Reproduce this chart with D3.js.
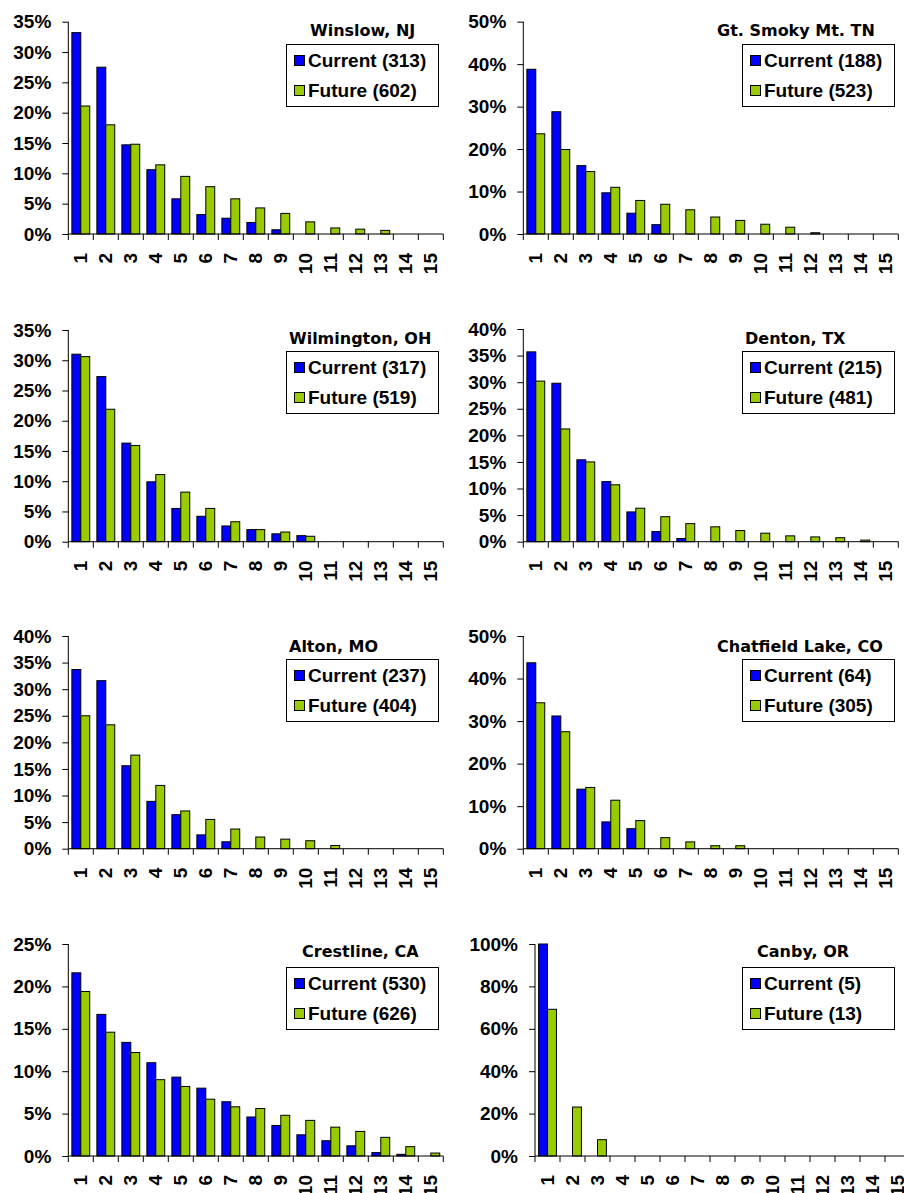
<!DOCTYPE html>
<html><head><meta charset="utf-8">
<script src="https://cdn.jsdelivr.net/npm/d3@7"></script>
<style>body{margin:0;background:#fff;overflow:hidden} svg{display:block}</style>
</head><body><svg id="c" width="904" height="1193"></svg>
<script>
// ---------- DATA ----------
const categories = ["1","2","3","4","5","6","7","8","9","10","11","12","13","14","15"];
const sites = ["Winslow, NJ","Gt. Smoky Mt. TN","Wilmington, OH","Denton, TX","Alton, MO","Chatfield Lake, CO","Crestline, CA","Canby, OR"];
const currentCounts = [313,188,317,215,237,64,530,5];
const futureCounts  = [602,523,519,481,404,305,626,13];
const yMaxes = [35,50,35,40,40,50,25,100];
const ySteps = [5,10,5,5,5,10,5,20];

const winslowCurrent    = [33.2,27.5,14.7,10.6,5.8,3.2,2.6,1.9,0.7,0,0,0,0,0,0];
const winslowFuture     = [21.1,18.0,14.8,11.4,9.5,7.8,5.8,4.3,3.4,2.0,1.0,0.8,0.6,0,0];
const smokyCurrent      = [38.8,28.8,16.1,9.7,4.9,2.2,0,0,0,0,0,0,0,0,0];
const smokyFuture       = [23.6,19.9,14.7,11.0,7.9,7.0,5.7,4.0,3.2,2.3,1.6,0.3,0,0,0];
const wilmingtonCurrent = [31.0,27.3,16.3,9.9,5.5,4.2,2.6,2.0,1.3,1.0,0,0,0,0,0];
const wilmingtonFuture  = [30.6,21.9,15.9,11.1,8.2,5.5,3.3,2.0,1.6,0.9,0,0,0,0,0];
const dentonCurrent     = [35.7,29.8,15.4,11.3,5.6,1.9,0.6,0,0,0,0,0,0,0,0];
const dentonFuture      = [30.2,21.2,15.0,10.7,6.3,4.7,3.4,2.8,2.1,1.6,1.1,0.9,0.75,0.3,0];
const altonCurrent      = [33.7,31.6,15.6,8.9,6.4,2.6,1.3,0,0,0,0,0,0,0,0];
const altonFuture       = [25.0,23.3,17.6,11.9,7.1,5.5,3.7,2.2,1.8,1.5,0.6,0,0,0,0];
const chatfieldCurrent  = [43.7,31.2,14.0,6.3,4.7,0,0,0,0,0,0,0,0,0,0];
const chatfieldFuture   = [34.3,27.5,14.4,11.4,6.6,2.6,1.6,0.7,0.7,0,0,0,0,0,0];
const crestlineCurrent  = [21.6,16.7,13.4,11.0,9.3,8.0,6.4,4.6,3.6,2.5,1.8,1.2,0.4,0.2,0];
const crestlineFuture   = [19.4,14.6,12.2,9.0,8.2,6.7,5.8,5.6,4.8,4.2,3.4,2.9,2.2,1.1,0.35];
const canbyCurrent      = [100,0,0,0,0,0,0,0,0,0,0,0,0,0,0];
const canbyFuture       = [69.2,23.1,7.7,0,0,0,0,0,0,0,0,0,0,0,0];

const currentSeries = [winslowCurrent,smokyCurrent,wilmingtonCurrent,dentonCurrent,altonCurrent,chatfieldCurrent,crestlineCurrent,canbyCurrent];
const futureSeries  = [winslowFuture,smokyFuture,wilmingtonFuture,dentonFuture,altonFuture,chatfieldFuture,crestlineFuture,canbyFuture];

// ---------- LAYOUT ----------
const layout = [
  {ax:68.3,  y0:234,   yTop:21.7, tx:310, ty:36,  lx:286, ly:44},
  {ax:523.3, y0:234,   yTop:21.7, tx:717, ty:36,  lx:742, ly:44},
  {ax:68.3,  y0:541.7, yTop:330,  tx:289, ty:344, lx:286, ly:351},
  {ax:523.3, y0:541.7, yTop:329,  tx:745, ty:344, lx:742, ly:351},
  {ax:68.3,  y0:848.7, yTop:636,  tx:289, ty:652, lx:286, ly:659},
  {ax:523.3, y0:848.7, yTop:636,  tx:717, ty:652, lx:742, ly:659},
  {ax:68.3,  y0:1156,  yTop:944,  tx:302, ty:957, lx:286, ly:967},
  {ax:535,   y0:1156,  yTop:944,  tx:757, ty:957, lx:742, ly:967}
];
const plotW = 375, legW = 152, legH = 62;
const blue = "#0000FF", green = "#99CC00";
const tickFont = "'Liberation Sans', Arial, sans-serif";
const titleFont = "'DejaVu Sans', Verdana, sans-serif";

const svg = d3.select("#c");

sites.forEach((site, i) => {
  const L = layout[i];
  const g = svg.append("g");
  const x = d3.scaleBand().domain(categories).range([L.ax, L.ax + plotW]).paddingInner(0).paddingOuter(0);
  const inner = d3.scaleBand().domain(["c","f"]).range([0, x.bandwidth()]).paddingOuter(0.4).paddingInner(0);
  const y = d3.scaleLinear().domain([0, yMaxes[i]]).range([L.y0, L.yTop]);
  const ticks = d3.range(0, yMaxes[i] + 0.001, ySteps[i]);

  // y axis
  const yAxis = d3.axisLeft(y).tickValues(ticks).tickSize(6).tickPadding(11)
    .tickFormat(d => d + "%");
  const ya = g.append("g").attr("transform", `translate(${L.ax},0)`).call(yAxis);
  ya.select(".domain").attr("stroke", "#000").attr("d", `M0,${L.y0}V${L.yTop}`);
  ya.selectAll(".tick line").attr("stroke", "#000");
  ya.selectAll("text").attr("font-family", tickFont).attr("font-weight", "bold")
    .attr("font-size", 19).attr("fill", "#000");

  // bars
  const cur = currentSeries[i], fut = futureSeries[i];
  const bars = g.append("g");
  const rows = categories.map((c, k) => ({c, cur: cur[k], fut: fut[k]}));
  [["c","cur",blue],["f","fut",green]].forEach(([key, field, col]) => {
    bars.selectAll("rect." + key).data(rows.filter(r => r[field] > 0)).join("rect")
      .attr("class", key)
      .attr("x", r => x(r.c) + inner(key))
      .attr("width", inner.bandwidth())
      .attr("y", r => y(r[field]))
      .attr("height", r => L.y0 - y(r[field]))
      .attr("fill", col).attr("stroke", "#000").attr("stroke-width", 1);
  });

  // x axis with ticks between categories
  const xa = g.append("g").attr("transform", `translate(0,${L.y0})`);
  xa.append("line").attr("x1", L.ax).attr("x2", L.ax + plotW).attr("y1", 0).attr("y2", 0).attr("stroke", "#000");
  xa.selectAll("line.tk").data(d3.range(categories.length + 1)).join("line")
    .attr("class", "tk")
    .attr("x1", k => L.ax + k * x.bandwidth()).attr("x2", k => L.ax + k * x.bandwidth())
    .attr("y1", 0).attr("y2", 6).attr("stroke", "#000");
  xa.selectAll("text").data(categories).join("text")
    .attr("transform", c => `translate(${x(c) + x.bandwidth() / 2},19) rotate(-90)`)
    .attr("text-anchor", "end").attr("dy", "0.35em")
    .attr("font-family", tickFont).attr("font-weight", "bold").attr("font-size", 19)
    .text(c => c);

  // title
  g.append("text").attr("x", L.tx).attr("y", L.ty)
    .attr("font-family", titleFont).attr("font-weight", "bold").attr("font-size", 16)
    .text(site);

  // legend
  const lg = g.append("g").attr("transform", `translate(${L.lx},${L.ly})`);
  lg.append("rect").attr("x", 0.5).attr("y", 0.5).attr("width", legW).attr("height", legH)
    .attr("fill", "#fff").attr("stroke", "#000");
  const entries = [["Current (" + currentCounts[i] + ")", blue], ["Future (" + futureCounts[i] + ")", green]];
  entries.forEach(([label, col], k) => {
    lg.append("rect").attr("x", 8.5).attr("y", 11.5 + k * 30).attr("width", 10).attr("height", 10)
      .attr("fill", col).attr("stroke", "#000");
    lg.append("text").attr("x", 22).attr("y", 23 + k * 30)
      .attr("font-family", tickFont).attr("font-weight", "bold").attr("font-size", 19)
      .text(label);
  });
});
</script></body></html>
